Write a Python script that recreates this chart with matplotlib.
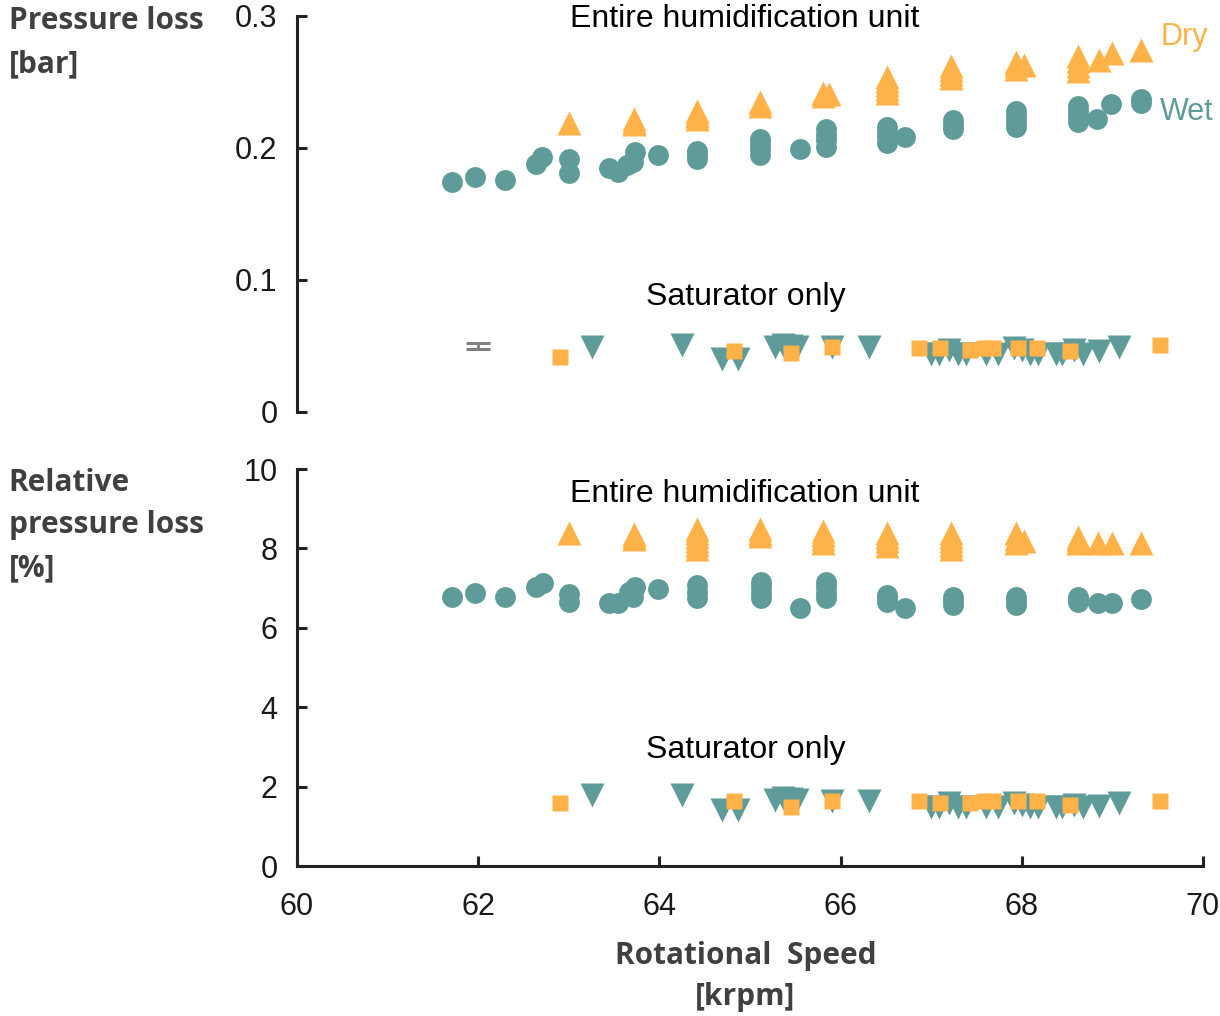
import matplotlib
matplotlib.use("Agg")
import matplotlib.pyplot as plt

# ---------------- data ----------------
# Top panel: pressure loss [bar], entire humidification unit
wet_unit_x = [61.71, 61.96, 62.30, 62.64, 62.70, 63.00, 63.00, 63.44, 63.54, 63.64, 63.71, 63.73,
              63.99, 64.42, 64.42, 64.42, 65.11, 65.11, 65.11, 65.11, 65.55, 65.84, 65.84, 65.84,
              65.84, 66.51, 66.51, 66.51, 66.51, 66.71, 67.24, 67.24, 67.24, 67.94, 67.94, 67.94,
              67.94, 68.62, 68.62, 68.62, 68.62, 68.83, 68.99, 69.32, 69.32]
wet_unit_bar = [0.174, 0.178, 0.176, 0.188, 0.193, 0.181, 0.192, 0.185, 0.182, 0.187, 0.189, 0.197,
                0.195, 0.192, 0.195, 0.198, 0.195, 0.199, 0.203, 0.207, 0.199, 0.201, 0.206, 0.210,
                0.214, 0.204, 0.208, 0.212, 0.216, 0.208, 0.214, 0.218, 0.221, 0.216, 0.220, 0.224,
                0.228, 0.220, 0.224, 0.228, 0.232, 0.222, 0.233, 0.234, 0.237]

dry_unit_x = [63.00, 63.72, 63.72, 63.72, 64.42, 64.42, 64.42, 64.42, 65.11, 65.11, 65.81, 65.81,
              65.87, 66.51, 66.51, 66.51, 66.51, 66.51, 67.22, 67.22, 67.22, 67.22, 67.94, 67.94,
              67.94, 68.02, 68.62, 68.62, 68.62, 68.62, 68.85, 69.00, 69.32]
dry_unit_bar = [0.219, 0.218, 0.220, 0.222, 0.222, 0.224, 0.226, 0.228, 0.232, 0.235, 0.239, 0.242,
                0.241, 0.242, 0.245, 0.248, 0.251, 0.254, 0.253, 0.256, 0.259, 0.262, 0.260, 0.263,
                0.265, 0.263, 0.258, 0.262, 0.266, 0.270, 0.267, 0.272, 0.274]

# Saturator only
wet_sat_x = [63.26, 64.25, 64.69, 64.87, 65.28, 65.37, 65.45, 65.52, 65.91, 66.31, 67.00, 67.09,
             67.20, 67.30, 67.39, 67.61, 67.74, 67.91, 68.00, 68.09, 68.18, 68.38, 68.45, 68.58,
             68.68, 68.85, 69.07]
wet_sat_bar = [0.049, 0.0505, 0.040, 0.040, 0.049, 0.0505, 0.050, 0.049, 0.0495, 0.0495, 0.044, 0.044,
               0.047, 0.044, 0.044, 0.044, 0.044, 0.0487, 0.047, 0.044, 0.044, 0.044, 0.044, 0.047,
               0.044, 0.046, 0.049]
wet_sat_pct = [1.78, 1.78, 1.41, 1.41, 1.66, 1.72, 1.70, 1.66, 1.64, 1.65, 1.49, 1.49,
               1.58, 1.49, 1.49, 1.49, 1.49, 1.59, 1.55, 1.49, 1.49, 1.49, 1.49, 1.55,
               1.49, 1.52, 1.59]

dry_sat_x = [62.90, 64.82, 65.45, 65.91, 66.87, 67.10, 67.43, 67.58, 67.68, 67.96, 68.17, 68.53, 69.53]
dry_sat_bar = [0.042, 0.0465, 0.0444, 0.049, 0.0485, 0.0485, 0.047, 0.0485, 0.0485, 0.0485, 0.0485,
               0.046, 0.051]
dry_sat_pct = [1.58, 1.64, 1.49, 1.64, 1.64, 1.60, 1.58, 1.64, 1.64, 1.64, 1.64, 1.55, 1.64]

# Bottom panel: relative pressure loss [%], entire unit
wet_rel_x = [61.71, 61.96, 62.30, 62.64, 62.72, 63.00, 63.00, 63.44, 63.54, 63.66, 63.73, 63.71,
             63.99, 64.42, 64.42, 64.42, 65.12, 65.12, 65.12, 65.12, 65.55, 65.84, 65.84, 65.84,
             65.84, 66.51, 66.51, 66.51, 66.71, 67.24, 67.24, 67.24, 67.94, 67.94, 67.94, 68.62,
             68.62, 68.62, 68.84, 69.00, 69.32]
wet_rel_pct = [6.78, 6.87, 6.78, 7.02, 7.12, 6.65, 6.85, 6.63, 6.62, 6.91, 7.03, 6.78,
               6.97, 6.75, 6.90, 7.08, 6.74, 6.88, 7.02, 7.16, 6.49, 6.74, 6.88, 7.02,
               7.16, 6.66, 6.75, 6.83, 6.49, 6.57, 6.67, 6.77, 6.57, 6.67, 6.77, 6.66,
               6.72, 6.77, 6.63, 6.63, 6.72]

dry_rel_x = [63.00, 63.72, 63.72, 63.72, 64.42, 64.42, 64.42, 64.42, 64.42, 64.42, 65.11, 65.11,
             65.11, 65.81, 65.81, 65.81, 65.81, 66.51, 66.51, 66.51, 66.51, 67.22, 67.22, 67.22,
             67.22, 67.22, 67.94, 67.94, 67.94, 68.02, 68.62, 68.62, 68.62, 68.84, 69.00, 69.32]
dry_rel_pct = [8.39, 8.24, 8.30, 8.36, 7.98, 8.08, 8.18, 8.28, 8.38, 8.48, 8.31, 8.40,
               8.48, 8.14, 8.25, 8.35, 8.45, 8.07, 8.18, 8.29, 8.39, 7.99, 8.10, 8.20,
               8.30, 8.39, 8.14, 8.25, 8.39, 8.20, 8.14, 8.22, 8.30, 8.15, 8.15, 8.15]

# uncertainty indicator
err_x = [62.0]
err_y = [0.05]
err_dy = [0.0025]

x_ticks = [60, 62, 64, 66, 68, 70]
top_ticks = [0, 0.1, 0.2, 0.3]
top_ticklabels = ["0", "0.1", "0.2", "0.3"]
bot_ticks = [0, 2, 4, 6, 8, 10]

TEAL = "#5f9b98"
ORANGE = "#ffb248"
AXC = "#222222"
LABC = "#404040"
FS = 22
FA = 23

plt.rcParams['font.family'] = ['Liberation Sans', 'DejaVu Sans']

fig = plt.figure(figsize=(12.2, 10.16), dpi=100)
ax1 = fig.add_axes([0.2434, 0.5945, 0.7426, 0.3898])
ax2 = fig.add_axes([0.2434, 0.1476, 0.7426, 0.3907])

ms_c, ms_t, ms_s = 15, 17, 12

# top panel
ax1.plot(wet_unit_x, wet_unit_bar, 'o', ms=ms_c, color=TEAL, mec='none', clip_on=False)
ax1.plot(dry_unit_x, dry_unit_bar, '^', ms=ms_t, color=ORANGE, mec='none', clip_on=False)
ax1.plot(wet_sat_x, wet_sat_bar, 'v', ms=ms_t, color=TEAL, mec='none', clip_on=False)
ax1.plot(dry_sat_x, dry_sat_bar, 's', ms=ms_s, color=ORANGE, mec='none', clip_on=False)
ax1.errorbar(err_x, err_y, yerr=err_dy, fmt='none', ecolor='#808080', elinewidth=2,
             capsize=8.5, capthick=2.2)

# bottom panel
ax2.plot(wet_rel_x, wet_rel_pct, 'o', ms=ms_c, color=TEAL, mec='none', clip_on=False)
ax2.plot(dry_rel_x, dry_rel_pct, '^', ms=ms_t, color=ORANGE, mec='none', clip_on=False)
ax2.plot(wet_sat_x, wet_sat_pct, 'v', ms=ms_t, color=TEAL, mec='none', clip_on=False)
ax2.plot(dry_sat_x, dry_sat_pct, 's', ms=ms_s, color=ORANGE, mec='none', clip_on=False)

for ax in (ax1, ax2):
    ax.set_xlim(60, 70)
    for s in ('top', 'right'):
        ax.spines[s].set_visible(False)
    for s in ('left', 'bottom'):
        ax.spines[s].set_linewidth(2.2)
        ax.spines[s].set_color(AXC)
    ax.tick_params(direction='in', length=7, width=2.2, color=AXC,
                   labelsize=FS, pad=14, labelcolor='#1a1a1a')
    ax.set_facecolor('none')

ax1.set_ylim(0, 0.3)
ax1.set_yticks(top_ticks)
ax1.set_yticklabels(top_ticklabels)
ax1.spines['bottom'].set_visible(False)
ax1.set_xticks([])

ax2.set_ylim(0, 10)
ax2.set_yticks(bot_ticks)
ax2.set_xticks(x_ticks)
ax2.tick_params(axis='x', pad=19)

# annotations
ax1.text(64.94, 0.298, "Entire humidification unit", ha='center', va='center', fontsize=FA)
ax1.text(64.96, 0.087, "Saturator only", ha='center', va='center', fontsize=FA)
ax2.text(64.94, 9.38, "Entire humidification unit", ha='center', va='center', fontsize=FA)
ax2.text(64.96, 2.92, "Saturator only", ha='center', va='center', fontsize=FA)
ax1.text(69.53, 0.284, "Dry", color=ORANGE, fontsize=FS, ha='left', va='center')
ax1.text(69.53, 0.227, "Wet", color=TEAL, fontsize=FS, ha='left', va='center')

# axis titles
bold = dict(family=['Open Sans', 'DejaVu Sans'], fontweight='bold', color=LABC, fontsize=21.5)
fig.text(0.007, 0.958, "Pressure loss\n[bar]", ha='left', va='center', linespacing=1.55, **bold)
fig.text(0.007, 0.483, "Relative\npressure loss\n[%]", ha='left', va='center', linespacing=1.55, **bold)
fig.text(0.611, 0.039, "Rotational  Speed\n[krpm]", ha='center', va='center',
         linespacing=1.5, multialignment='center', **bold)

fig.savefig("out.png", dpi=100)
